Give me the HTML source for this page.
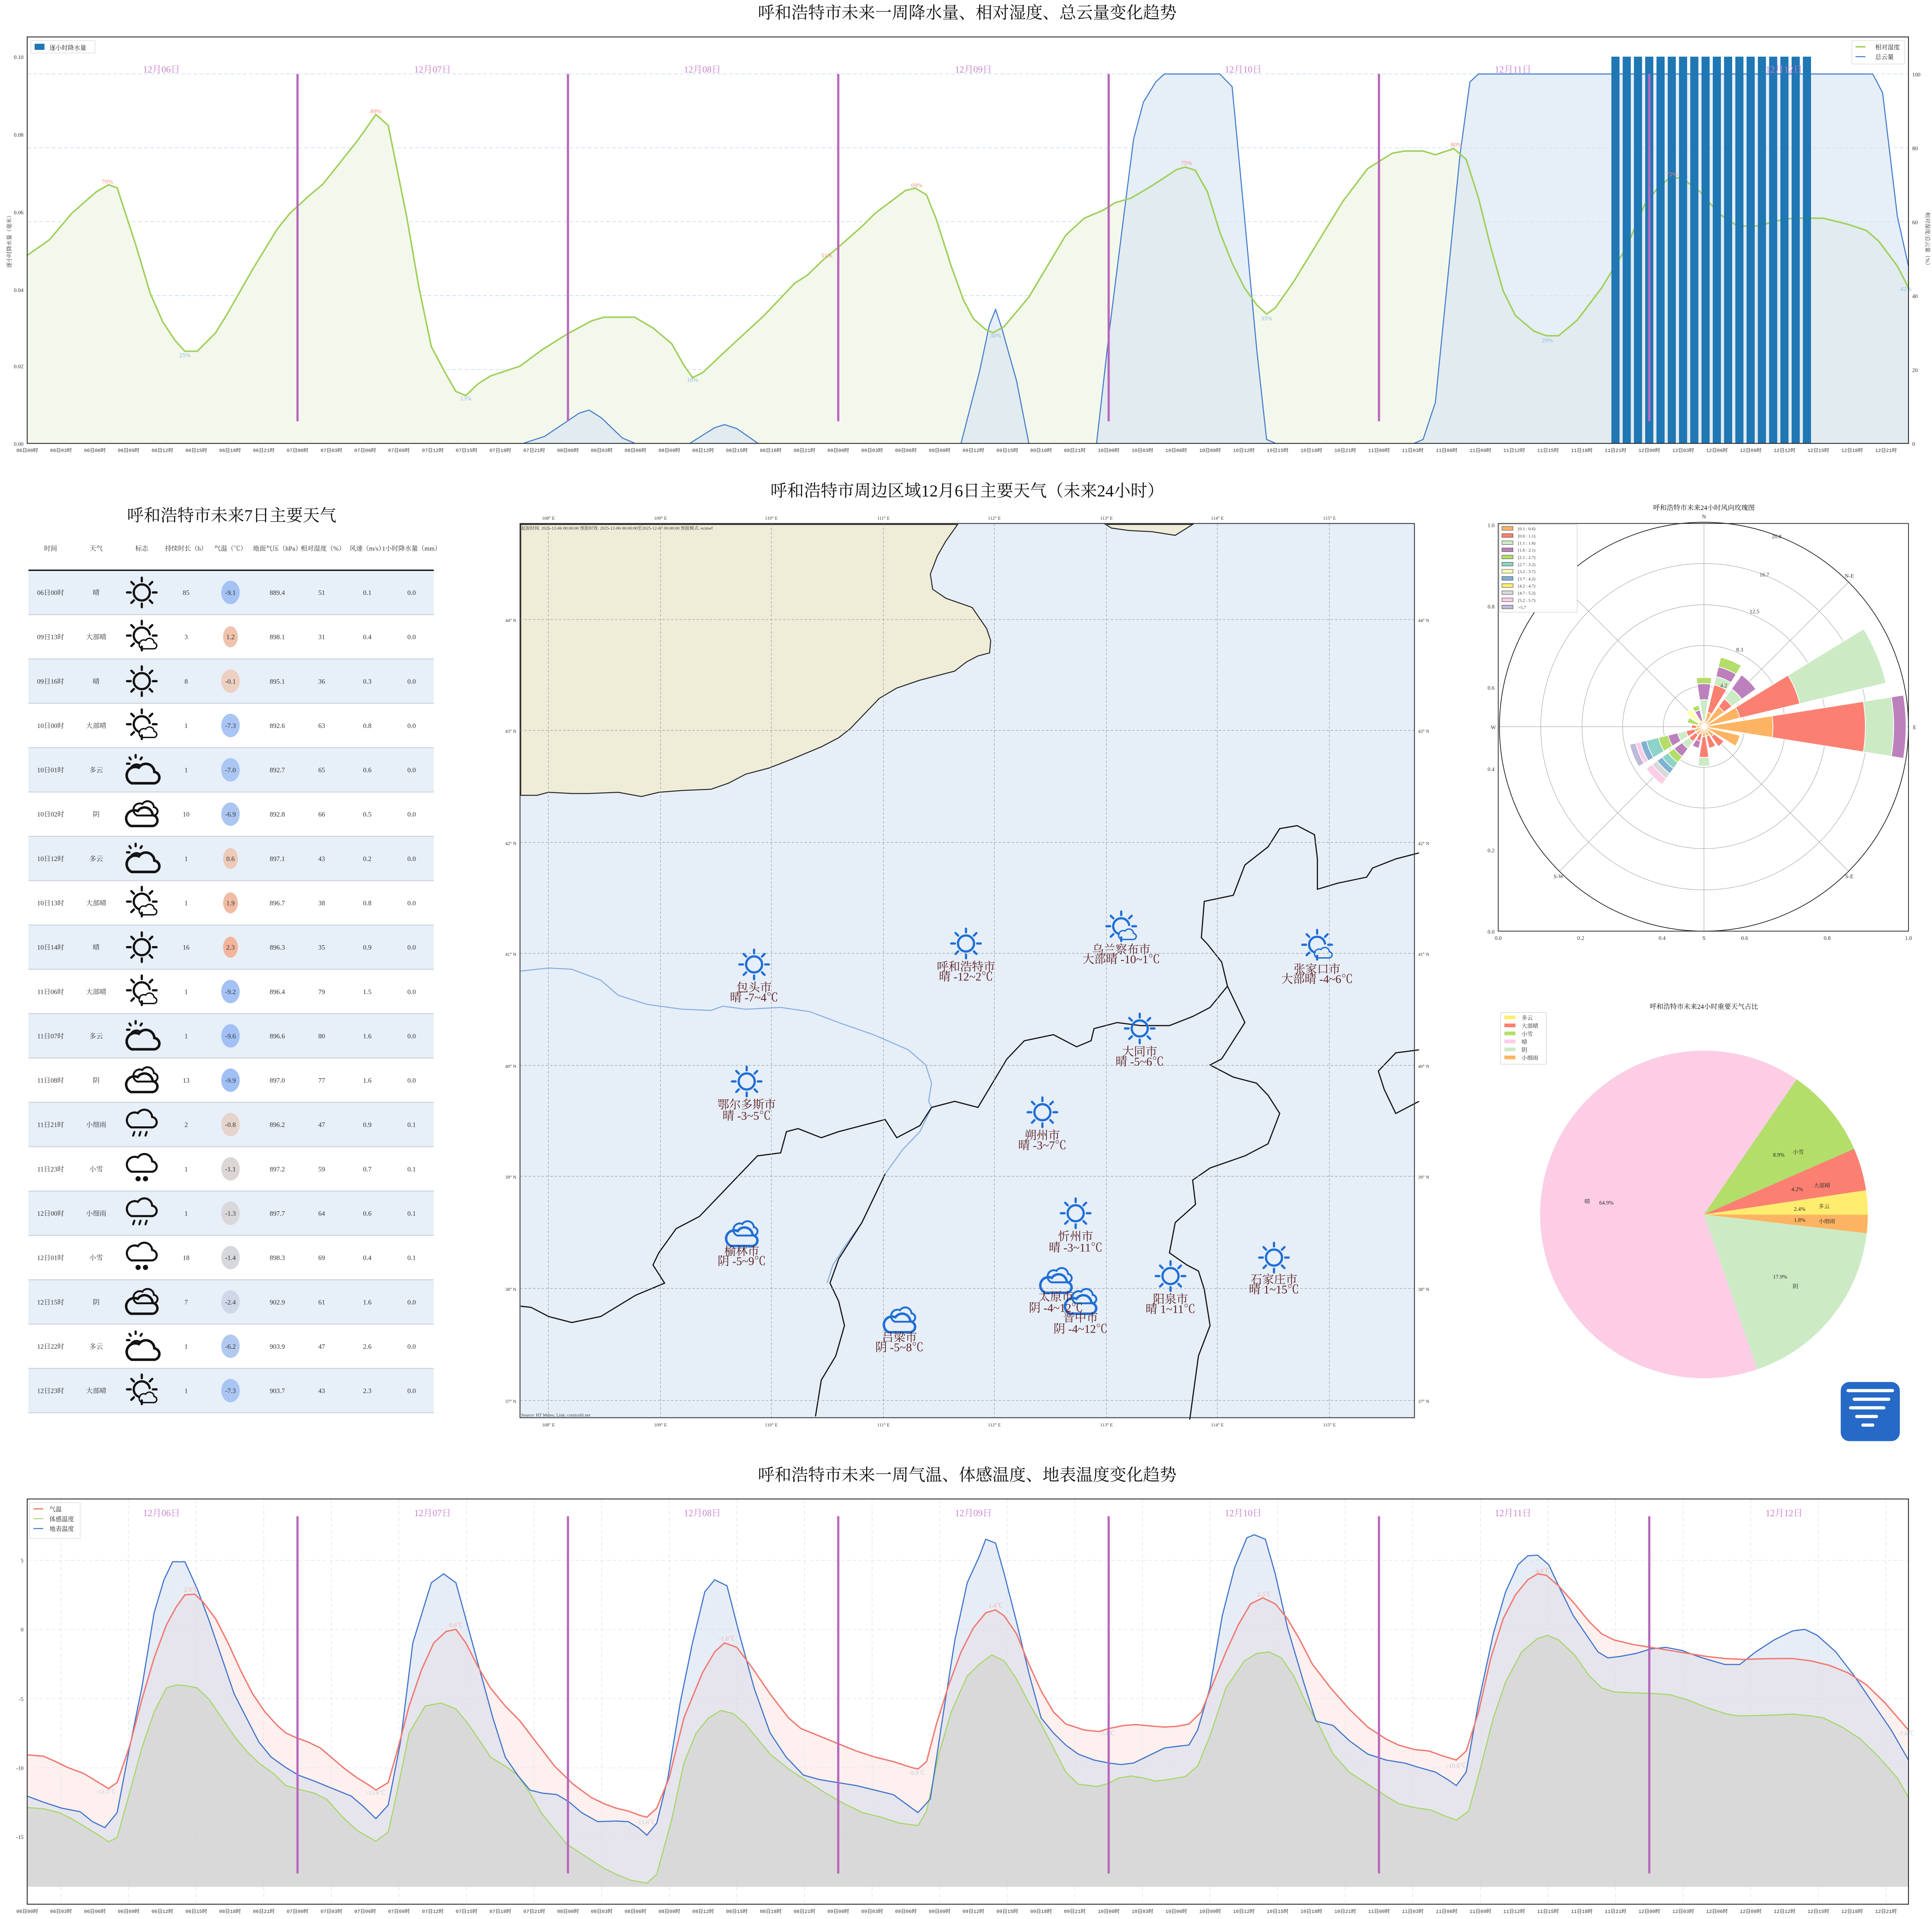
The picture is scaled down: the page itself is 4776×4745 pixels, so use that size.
<!DOCTYPE html>
<html><head><meta charset="utf-8"><style>body{margin:0;background:#fff}svg{display:block}</style></head><body>
<svg id="S" xmlns="http://www.w3.org/2000/svg" width="4776" height="4745" viewBox="0 0 1568 1558" font-family="'Liberation Serif','Noto Serif CJK SC',serif">
<defs>
<g id="sun" fill="none" stroke="currentColor" stroke-width="1.8" stroke-linecap="round"><circle r="6.5"/><path d="M0,-9V-12M6.4,-6.4L8.5,-8.5M9,0H12M6.4,6.4L8.5,8.5M0,9V12M-6.4,6.4L-8.5,8.5M-9,0H-12M-6.4,-6.4L-8.5,-8.5"/></g>
<path id="cl" d="M-8,6 H7 A4,4 0 0 0 8,-2 A6,6 0 0 0 -3,-5 A5,5 0 0 0 -8,6 Z"/>
<g id="sunc" fill="none" stroke="currentColor" stroke-width="1.8" stroke-linecap="round"><path d="M0,-9V-12M6.4,-6.4L8.5,-8.5M9,0H12M0,9V12M-6.4,6.4L-8.5,8.5M-9,0H-12M-6.4,-6.4L-8.5,-8.5"/><path d="M-2,6.2 A6.5,6.5 0 1 1 6.4,-1"/><use href="#cl" transform="translate(5,7) scale(.62)"/></g>
<g id="pc" fill="none" stroke="currentColor" stroke-width="1.8" stroke-linecap="round"><path d="M-5,-13V-11M0,-11L-1,-9.5M-10,-11L-9,-9.5M-12,-6H-10M-1,-4 A5,5 0 0 0 -9,-2"/><use href="#cl" transform="translate(1,3) scale(1.15)"/></g>
<g id="ov" fill="none" stroke="currentColor" stroke-width="1.8"><use href="#cl" transform="translate(3,-4) scale(.85)"/><use href="#cl" transform="translate(0,3) scale(1.1)"/></g>
<g id="rain" fill="none" stroke="currentColor" stroke-width="1.6" stroke-linecap="round"><use href="#cl" transform="translate(0,-3) scale(1.05)"/><path d="M-6,7l-1,3M-1,7l-1,3M4,7l-1,3"/></g>
<g id="snow" stroke="currentColor" stroke-width="1.6"><use href="#cl" fill="none" transform="translate(0,-3) scale(1.05)"/><circle cx="-3" cy="9" r="1.3" fill="currentColor"/><circle cx="3" cy="9" r="1.3" fill="currentColor"/></g>
<g id="xt" font-size="4" fill="#333" text-anchor="middle" font-family="'Liberation Mono','Noto Sans CJK SC',monospace">
<text x="22" y="0">06日00时</text><text x="49.4" y="0">06日03时</text><text x="76.9" y="0">06日06时</text><text x="104.3" y="0">06日09时</text><text x="131.7" y="0">06日12时</text><text x="159.2" y="0">06日15时</text><text x="186.6" y="0">06日18时</text><text x="214" y="0">06日21时</text>
<text x="241.4" y="0">07日00时</text><text x="268.9" y="0">07日03时</text><text x="296.3" y="0">07日06时</text><text x="323.7" y="0">07日09时</text><text x="351.2" y="0">07日12时</text><text x="378.6" y="0">07日15时</text><text x="406" y="0">07日18时</text><text x="433.5" y="0">07日21时</text>
<text x="460.9" y="0">08日00时</text><text x="488.3" y="0">08日03时</text><text x="515.7" y="0">08日06时</text><text x="543.2" y="0">08日09时</text><text x="570.6" y="0">08日12时</text><text x="598" y="0">08日15时</text><text x="625.5" y="0">08日18时</text><text x="652.9" y="0">08日21时</text>
<text x="680.3" y="0">09日00时</text><text x="707.8" y="0">09日03时</text><text x="735.2" y="0">09日06时</text><text x="762.6" y="0">09日09时</text><text x="790" y="0">09日12时</text><text x="817.5" y="0">09日15时</text><text x="844.9" y="0">09日18时</text><text x="872.3" y="0">09日21时</text>
<text x="899.8" y="0">10日00时</text><text x="927.2" y="0">10日03时</text><text x="954.6" y="0">10日06时</text><text x="982.1" y="0">10日09时</text><text x="1009.5" y="0">10日12时</text><text x="1036.9" y="0">10日15时</text><text x="1064.3" y="0">10日18时</text><text x="1091.8" y="0">10日21时</text>
<text x="1119.2" y="0">11日00时</text><text x="1146.6" y="0">11日03时</text><text x="1174.1" y="0">11日06时</text><text x="1201.5" y="0">11日09时</text><text x="1228.9" y="0">11日12时</text><text x="1256.4" y="0">11日15时</text><text x="1283.8" y="0">11日18时</text><text x="1311.2" y="0">11日21时</text>
<text x="1338.6" y="0">12日00时</text><text x="1366.1" y="0">12日03时</text><text x="1393.5" y="0">12日06时</text><text x="1420.9" y="0">12日09时</text><text x="1448.4" y="0">12日12时</text><text x="1475.8" y="0">12日15时</text><text x="1503.2" y="0">12日18时</text><text x="1530.7" y="0">12日21时</text>
</g>
<g id="vl" stroke="#b868bc" stroke-width="1.8"><path d="M241.4,0v1M460.9,0v1M680.3,0v1M899.8,0v1M1119.2,0v1M1338.6,0v1"/></g>
</defs>

<!-- ===== TOP CHART ===== -->
<text x="785" y="15" font-size="13.6" text-anchor="middle" fill="#111">呼和浩特市未来一周降水量、相对湿度、总云量变化趋势</text>
<g stroke="#c4d8ee" stroke-width="0.5" stroke-dasharray="3,2"><path d="M22,60H1549M22,120H1549M22,180H1549M22,240H1549M22,300H1549"/></g>
<g transform="matrix(1,0,0,0.25126,0,0)">
<path fill="#f4f8ec" d="M22,825 L40,775 L58,690 L78,620 L88,597 L95,607 L110,790 L122,950 L132,1040 L142,1100 L150,1135 L160,1135 L175,1075 L185,1010 L205,870 L225,740 L235,690 L250,635 L262,595 L275,530 L290,455 L305,370 L315,405 L330,700 L340,930 L350,1120 L362,1210 L370,1265 L378,1278 L388,1240 L398,1215 L422,1183 L440,1130 L460,1080 L480,1037 L490,1025 L515,1025 L530,1060 L545,1110 L555,1180 L562,1220 L570,1205 L590,1130 L620,1020 L645,915 L655,890 L668,840 L680,800 L700,730 L710,690 L735,615 L743,608 L752,630 L760,710 L772,860 L782,970 L790,1030 L800,1065 L806,1075 L815,1055 L835,960 L850,860 L865,760 L880,705 L895,680 L905,655 L918,640 L935,600 L955,548 L962,540 L970,550 L980,620 L990,750 L1000,850 L1010,930 L1020,985 L1028,1015 L1035,995 L1050,910 L1070,780 L1090,650 L1110,545 L1130,495 L1140,488 L1155,488 L1165,500 L1180,480 L1190,515 L1200,640 L1210,800 L1220,940 L1230,1020 L1245,1070 L1255,1085 L1265,1085 L1280,1035 L1300,930 L1320,800 L1335,660 L1345,610 L1355,575 L1365,575 L1380,620 L1395,690 L1410,730 L1428,730 L1440,715 L1455,705 L1480,705 L1500,725 L1515,745 L1525,780 L1540,860 L1549,930 L1549,1432 L22,1432Z"/>
<path fill="#d6e3f4" fill-opacity="0.6" d="M22,1432 L425,1432 L442,1410 L470,1335 L478,1325 L488,1350 L505,1415 L515,1432 L560,1432 L580,1382 L588,1372 L598,1385 L615,1432 L780,1432 L795,1200 L803,1050 L808,1000 L813,1060 L825,1230 L835,1432 L890,1432 L900,1080 L912,700 L920,450 L928,330 L938,265 L945,239 L990,239 L1000,280 L1010,700 L1020,1130 L1028,1420 L1035,1432 L1148,1432 L1155,1420 L1165,1300 L1175,900 L1185,500 L1193,265 L1200,239 L1520,239 L1528,300 L1540,700 L1549,860 L1549,1432Z"/>
<path fill="none" stroke="#3f7ccc" stroke-width="2.6" vector-effect="non-scaling-stroke" d="M425,1432 L442,1410 L470,1335 L478,1325 L488,1350 L505,1415 L515,1432 M560,1432 L580,1382 L588,1372 L598,1385 L615,1432 M780,1432 L795,1200 L803,1050 L808,1000 L813,1060 L825,1230 L835,1432 M890,1432 L900,1080 L912,700 L920,450 L928,330 L938,265 L945,239 L990,239 L1000,280 L1010,700 L1020,1130 L1028,1420 L1035,1432 M1148,1432 L1155,1420 L1165,1300 L1175,900 L1185,500 L1193,265 L1200,239 L1520,239 L1528,300 L1540,700 L1549,860"/>
<path fill="none" stroke="#9fd05a" stroke-width="3.8" vector-effect="non-scaling-stroke" d="M22,825 L40,775 L58,690 L78,620 L88,597 L95,607 L110,790 L122,950 L132,1040 L142,1100 L150,1135 L160,1135 L175,1075 L185,1010 L205,870 L225,740 L235,690 L250,635 L262,595 L275,530 L290,455 L305,370 L315,405 L330,700 L340,930 L350,1120 L362,1210 L370,1265 L378,1278 L388,1240 L398,1215 L422,1183 L440,1130 L460,1080 L480,1037 L490,1025 L515,1025 L530,1060 L545,1110 L555,1180 L562,1220 L570,1205 L590,1130 L620,1020 L645,915 L655,890 L668,840 L680,800 L700,730 L710,690 L735,615 L743,608 L752,630 L760,710 L772,860 L782,970 L790,1030 L800,1065 L806,1075 L815,1055 L835,960 L850,860 L865,760 L880,705 L895,680 L905,655 L918,640 L935,600 L955,548 L962,540 L970,550 L980,620 L990,750 L1000,850 L1010,930 L1020,985 L1028,1015 L1035,995 L1050,910 L1070,780 L1090,650 L1110,545 L1130,495 L1140,488 L1155,488 L1165,500 L1180,480 L1190,515 L1200,640 L1210,800 L1220,940 L1230,1020 L1245,1070 L1255,1085 L1265,1085 L1280,1035 L1300,930 L1320,800 L1335,660 L1345,610 L1355,575 L1365,575 L1380,620 L1395,690 L1410,730 L1428,730 L1440,715 L1455,705 L1480,705 L1500,725 L1515,745 L1525,780 L1540,860 L1549,930"/>
</g>
<g id="bars"></g>
<use href="#vl" transform="translate(0,60) scale(1,282)"/>
<g font-size="7.5" fill="#c97fcb" text-anchor="middle"><text x="131" y="59">12月06日</text><text x="351" y="59">12月07日</text><text x="570" y="59">12月08日</text><text x="790" y="59">12月09日</text><text x="1009" y="59">12月10日</text><text x="1228" y="59">12月11日</text><text x="1448" y="59">12月12日</text></g>
<g font-size="5" text-anchor="middle"><g fill="#f08a80"><text x="87" y="149">70%</text><text x="305" y="92">89%</text><text x="744" y="152">69%</text><text x="963" y="134">75%</text><text x="1182" y="119">80%</text><text x="1357" y="143">72%</text><text x="671" y="209">51%</text></g>
<g fill="#8ab8d8"><text x="150" y="290">25%</text><text x="378" y="325">13%</text><text x="562" y="310">18%</text><text x="808" y="274">30%</text><text x="1028" y="260">35%</text><text x="1256" y="278">29%</text><text x="1547" y="236">42%</text></g></g>
<rect x="22" y="30" width="1527" height="330" fill="none" stroke="#222" stroke-width="0.7"/>
<g font-size="4.5" fill="#333" text-anchor="end"><text x="19" y="362">0.00</text><text x="19" y="299">0.02</text><text x="19" y="237">0.04</text><text x="19" y="174">0.06</text><text x="19" y="111">0.08</text><text x="19" y="48">0.10</text></g>
<g font-size="4.5" fill="#333"><text x="1552" y="362">0</text><text x="1552" y="302">20</text><text x="1552" y="242">40</text><text x="1552" y="182">60</text><text x="1552" y="122">80</text><text x="1552" y="62">100</text></g>
<text transform="translate(9,195) rotate(-90)" font-size="4.5" text-anchor="middle" fill="#333">逐小时降水量（毫米）</text>
<text transform="translate(1563,195) rotate(90)" font-size="4.5" text-anchor="middle" fill="#333">相对湿度/总云量（%）</text>
<g><rect x="25" y="33" width="52" height="10" fill="#fff" stroke="#ddd" stroke-width="0.5"/><rect x="28" y="35.5" width="8" height="5" fill="#1f77b4"/><text x="40" y="40.5" font-size="5" fill="#222">逐小时降水量</text></g>
<g><rect x="1503" y="33" width="43" height="19" fill="#fff" stroke="#ddd" stroke-width="0.5"/><path d="M1506,38h8" stroke="#9fd05a" stroke-width="1.2"/><path d="M1506,46h8" stroke="#3f7ccc" stroke-width="0.8"/><text x="1522" y="40" font-size="5" fill="#222">相对湿度</text><text x="1522" y="48" font-size="5" fill="#222">总云量</text></g>
<use href="#xt" transform="translate(0,367)"/>

<!-- ===== TABLE ===== -->
<text x="188" y="423" font-size="13.6" text-anchor="middle" fill="#111">呼和浩特市未来7日主要天气</text>
<g font-size="5.3" fill="#333" text-anchor="middle"><text x="41" y="447">时间</text><text x="78" y="447">天气</text><text x="115" y="447">标志</text><text x="151" y="447">持续时长（h）</text><text x="187" y="447">气温（℃）</text><text x="225" y="447">地面气压（hPa）</text><text x="262" y="447">相对湿度（%）</text><text x="298" y="447">风速（m/s）</text><text x="334" y="447">1小时降水量（mm）</text></g>
<g fill="#e7eff9"><rect x="23" y="463" width="329" height="36"/><rect x="23" y="535" width="329" height="36"/><rect x="23" y="607" width="329" height="36"/><rect x="23" y="679" width="329" height="36"/><rect x="23" y="751" width="329" height="36"/><rect x="23" y="823" width="329" height="36"/><rect x="23" y="895" width="329" height="36"/><rect x="23" y="967" width="329" height="36"/><rect x="23" y="1039" width="329" height="36"/><rect x="23" y="1111" width="329" height="36"/></g>
<g stroke="#cfd3d8" stroke-width="0.8"><path d="M23,499H352M23,535H352M23,571H352M23,607H352M23,643H352M23,679H352M23,715H352M23,751H352M23,787H352M23,823H352M23,859H352M23,895H352M23,931H352M23,967H352M23,1003H352M23,1039H352M23,1075H352M23,1111H352M23,1147H352"/></g>
<path d="M23,463H352" stroke="#111" stroke-width="1.1"/>
<g>
<ellipse cx="187" cy="481" rx="7.5" ry="9.5" fill="#a4c2f4"/><ellipse cx="187" cy="517" rx="6" ry="8.5" fill="#efc3ac"/><ellipse cx="187" cy="553" rx="7.5" ry="9.5" fill="#ecd0c2"/><ellipse cx="187" cy="589" rx="7.5" ry="9.5" fill="#a9c5f3"/><ellipse cx="187" cy="625" rx="7.5" ry="9.5" fill="#aac6f2"/><ellipse cx="187" cy="661" rx="7.5" ry="9.5" fill="#abc6f1"/><ellipse cx="187" cy="697" rx="6" ry="8.5" fill="#edcab9"/><ellipse cx="187" cy="733" rx="6" ry="8.5" fill="#f0bca4"/><ellipse cx="187" cy="769" rx="6" ry="8.5" fill="#f2b49b"/><ellipse cx="187" cy="805" rx="7.5" ry="9.5" fill="#a4c2f4"/><ellipse cx="187" cy="841" rx="7.5" ry="9.5" fill="#a2c0f5"/><ellipse cx="187" cy="877" rx="7.5" ry="9.5" fill="#a0bff5"/><ellipse cx="187" cy="913" rx="7.5" ry="9.5" fill="#e6d4cc"/><ellipse cx="187" cy="949" rx="7.5" ry="9.5" fill="#dcd6d5"/><ellipse cx="187" cy="985" rx="7.5" ry="9.5" fill="#d9d7da"/><ellipse cx="187" cy="1021" rx="7.5" ry="9.5" fill="#d6d8dd"/><ellipse cx="187" cy="1057" rx="7.5" ry="9.5" fill="#cfd8e8"/><ellipse cx="187" cy="1093" rx="7.5" ry="9.5" fill="#b2c9ef"/><ellipse cx="187" cy="1129" rx="7.5" ry="9.5" fill="#a9c5f3"/>
</g>
<g color="#111">
<use href="#sun" transform="translate(115,481)"/><use href="#sunc" transform="translate(115,516)"/><use href="#sun" transform="translate(115,553)"/><use href="#sunc" transform="translate(115,588)"/><use href="#pc" transform="translate(115,626)"/><use href="#ov" transform="translate(115,661)"/><use href="#pc" transform="translate(115,698)"/><use href="#sunc" transform="translate(115,732)"/><use href="#sun" transform="translate(115,769)"/><use href="#sunc" transform="translate(115,804)"/><use href="#pc" transform="translate(115,842)"/><use href="#ov" transform="translate(115,877)"/><use href="#rain" transform="translate(115,912)"/><use href="#snow" transform="translate(115,948)"/><use href="#rain" transform="translate(115,984)"/><use href="#snow" transform="translate(115,1020)"/><use href="#ov" transform="translate(115,1057)"/><use href="#pc" transform="translate(115,1094)"/><use href="#sunc" transform="translate(115,1128)"/>
</g>
<g font-size="5.5" fill="#333" text-anchor="middle">
<text y="483"><tspan x="41">06日00时</tspan><tspan x="78">晴</tspan><tspan x="151">85</tspan><tspan x="187">-9.1</tspan><tspan x="225">889.4</tspan><tspan x="261">51</tspan><tspan x="298">0.1</tspan><tspan x="334">0.0</tspan></text>
<text y="519"><tspan x="41">09日13时</tspan><tspan x="78">大部晴</tspan><tspan x="151">3</tspan><tspan x="187">1.2</tspan><tspan x="225">898.1</tspan><tspan x="261">31</tspan><tspan x="298">0.4</tspan><tspan x="334">0.0</tspan></text>
<text y="555"><tspan x="41">09日16时</tspan><tspan x="78">晴</tspan><tspan x="151">8</tspan><tspan x="187">-0.1</tspan><tspan x="225">895.1</tspan><tspan x="261">36</tspan><tspan x="298">0.3</tspan><tspan x="334">0.0</tspan></text>
<text y="591"><tspan x="41">10日00时</tspan><tspan x="78">大部晴</tspan><tspan x="151">1</tspan><tspan x="187">-7.3</tspan><tspan x="225">892.6</tspan><tspan x="261">63</tspan><tspan x="298">0.8</tspan><tspan x="334">0.0</tspan></text>
<text y="627"><tspan x="41">10日01时</tspan><tspan x="78">多云</tspan><tspan x="151">1</tspan><tspan x="187">-7.0</tspan><tspan x="225">892.7</tspan><tspan x="261">65</tspan><tspan x="298">0.6</tspan><tspan x="334">0.0</tspan></text>
<text y="663"><tspan x="41">10日02时</tspan><tspan x="78">阴</tspan><tspan x="151">10</tspan><tspan x="187">-6.9</tspan><tspan x="225">892.8</tspan><tspan x="261">66</tspan><tspan x="298">0.5</tspan><tspan x="334">0.0</tspan></text>
<text y="699"><tspan x="41">10日12时</tspan><tspan x="78">多云</tspan><tspan x="151">1</tspan><tspan x="187">0.6</tspan><tspan x="225">897.1</tspan><tspan x="261">43</tspan><tspan x="298">0.2</tspan><tspan x="334">0.0</tspan></text>
<text y="735"><tspan x="41">10日13时</tspan><tspan x="78">大部晴</tspan><tspan x="151">1</tspan><tspan x="187">1.9</tspan><tspan x="225">896.7</tspan><tspan x="261">38</tspan><tspan x="298">0.8</tspan><tspan x="334">0.0</tspan></text>
<text y="771"><tspan x="41">10日14时</tspan><tspan x="78">晴</tspan><tspan x="151">16</tspan><tspan x="187">2.3</tspan><tspan x="225">896.3</tspan><tspan x="261">35</tspan><tspan x="298">0.9</tspan><tspan x="334">0.0</tspan></text>
<text y="807"><tspan x="41">11日06时</tspan><tspan x="78">大部晴</tspan><tspan x="151">1</tspan><tspan x="187">-9.2</tspan><tspan x="225">896.4</tspan><tspan x="261">79</tspan><tspan x="298">1.5</tspan><tspan x="334">0.0</tspan></text>
<text y="843"><tspan x="41">11日07时</tspan><tspan x="78">多云</tspan><tspan x="151">1</tspan><tspan x="187">-9.6</tspan><tspan x="225">896.6</tspan><tspan x="261">80</tspan><tspan x="298">1.6</tspan><tspan x="334">0.0</tspan></text>
<text y="879"><tspan x="41">11日08时</tspan><tspan x="78">阴</tspan><tspan x="151">13</tspan><tspan x="187">-9.9</tspan><tspan x="225">897.0</tspan><tspan x="261">77</tspan><tspan x="298">1.6</tspan><tspan x="334">0.0</tspan></text>
<text y="915"><tspan x="41">11日21时</tspan><tspan x="78">小细雨</tspan><tspan x="151">2</tspan><tspan x="187">-0.8</tspan><tspan x="225">896.2</tspan><tspan x="261">47</tspan><tspan x="298">0.9</tspan><tspan x="334">0.1</tspan></text>
<text y="951"><tspan x="41">11日23时</tspan><tspan x="78">小雪</tspan><tspan x="151">1</tspan><tspan x="187">-1.1</tspan><tspan x="225">897.2</tspan><tspan x="261">59</tspan><tspan x="298">0.7</tspan><tspan x="334">0.1</tspan></text>
<text y="987"><tspan x="41">12日00时</tspan><tspan x="78">小细雨</tspan><tspan x="151">1</tspan><tspan x="187">-1.3</tspan><tspan x="225">897.7</tspan><tspan x="261">64</tspan><tspan x="298">0.6</tspan><tspan x="334">0.1</tspan></text>
<text y="1023"><tspan x="41">12日01时</tspan><tspan x="78">小雪</tspan><tspan x="151">18</tspan><tspan x="187">-1.4</tspan><tspan x="225">898.3</tspan><tspan x="261">69</tspan><tspan x="298">0.4</tspan><tspan x="334">0.1</tspan></text>
<text y="1059"><tspan x="41">12日15时</tspan><tspan x="78">阴</tspan><tspan x="151">7</tspan><tspan x="187">-2.4</tspan><tspan x="225">902.9</tspan><tspan x="261">61</tspan><tspan x="298">1.6</tspan><tspan x="334">0.0</tspan></text>
<text y="1095"><tspan x="41">12日22时</tspan><tspan x="78">多云</tspan><tspan x="151">1</tspan><tspan x="187">-6.2</tspan><tspan x="225">903.9</tspan><tspan x="261">47</tspan><tspan x="298">2.6</tspan><tspan x="334">0.0</tspan></text>
<text y="1131"><tspan x="41">12日23时</tspan><tspan x="78">大部晴</tspan><tspan x="151">1</tspan><tspan x="187">-7.3</tspan><tspan x="225">903.7</tspan><tspan x="261">43</tspan><tspan x="298">2.3</tspan><tspan x="334">0.0</tspan></text>
</g>

<!-- ===== MAP ===== -->
<text x="785" y="403" font-size="13.6" text-anchor="middle" fill="#111">呼和浩特市周边区域12月6日主要天气（未来24小时）</text>
<rect x="422" y="425" width="726" height="726" fill="#e6eef8"/>
<g transform="matrix(0.471,0,0,0.492,416.9,387.4)">
<path fill="#efedd8" stroke="#222" stroke-width="2.4" vector-effect="non-scaling-stroke" d="M12,78 L765,78 L745,105 L730,130 L718,160 L722,185 L745,200 L790,215 L815,250 L822,270 L820,290 L800,295 L780,305 L760,320 L740,325 L700,335 L660,348 L630,365 L600,395 L580,415 L560,430 L530,445 L480,465 L440,480 L400,490 L370,505 L340,515 L290,517 L250,520 L220,527 L180,520 L130,522 L100,522 L60,520 L40,525 L12,525Z"/>
<path fill="#efedd8" stroke="#222" stroke-width="2.4" vector-effect="non-scaling-stroke" d="M1020,78 L1170,78 L1140,96 L1100,90 L1060,88 L1030,84Z"/>
<path fill="none" stroke="#86aee0" stroke-width="2.6" vector-effect="non-scaling-stroke" d="M12,815 L60,810 L100,812 L150,830 L180,855 L230,870 L290,878 L340,880 L360,873 L400,878 L460,875 L510,882 L560,900 L620,920 L680,945 L710,970 L720,1000 L715,1030 L720,1040 L700,1080 L670,1110 L640,1150 L620,1190 L600,1230 L570,1270 L550,1300 L540,1330"/>
<path fill="none" stroke="#111" stroke-width="2.8" vector-effect="non-scaling-stroke" d="M720,1040 L760,1030 L800,1040 L825,1000 L850,960 L880,930 L930,920 L970,940 L995,930 L1000,910 L1040,900 L1080,905 L1130,905 L1170,890 L1200,875 L1230,840 L1220,800 L1195,770 L1185,760 L1190,700 L1240,690 L1260,640 L1300,610 L1320,580 L1350,575 L1380,590 L1385,630 L1385,680 L1420,670 L1470,660 L1480,645 L1520,630 L1560,620 M1230,840 L1250,880 L1260,900 L1220,960 L1200,970 L1240,990 L1280,1000 L1300,1020 L1320,1050 L1300,1100 L1260,1120 L1200,1140 L1170,1160 L1175,1200 L1140,1230 L1130,1280 L1160,1300 L1180,1310 L1190,1340 L1200,1400 L1180,1450 L1170,1520 L1165,1555 M720,1040 L700,1070 L660,1090 L640,1060 L600,1070 L560,1080 L530,1090 L490,1075 L470,1080 L460,1115 L420,1120 L400,1140 L380,1160 L350,1190 L320,1220 L280,1240 L250,1280 L240,1300 L260,1330 L210,1350 L150,1385 L100,1395 L60,1385 L30,1370 L12,1368 M640,1150 L620,1190 L600,1230 L560,1290 L545,1330 L560,1360 L570,1400 L555,1450 L530,1490 L520,1550 M1560,945 L1520,950 L1490,980 L1500,1010 L1520,1050 L1560,1030"/>
</g>
<g stroke="#999" stroke-width="0.4" stroke-dasharray="2,1.5" fill="none"><path d="M445,425V1151M536,425V1151M626,425V1151M717,425V1151M807,425V1151M898,425V1151M988,425V1151M1079,425V1151M422,503H1148M422,593H1148M422,684H1148M422,774H1148M422,865H1148M422,955H1148M422,1046H1148M422,1137H1148"/></g>
<rect x="422" y="425" width="726" height="726" fill="none" stroke="#333" stroke-width="0.7"/>
<g font-size="3.8" fill="#333" text-anchor="middle"><text y="422"><tspan x="445">108° E</tspan><tspan x="536">109° E</tspan><tspan x="626">110° E</tspan><tspan x="717">111° E</tspan><tspan x="807">112° E</tspan><tspan x="898">113° E</tspan><tspan x="988">114° E</tspan><tspan x="1079">115° E</tspan></text><text y="1158"><tspan x="445">108° E</tspan><tspan x="536">109° E</tspan><tspan x="626">110° E</tspan><tspan x="717">111° E</tspan><tspan x="807">112° E</tspan><tspan x="898">113° E</tspan><tspan x="988">114° E</tspan><tspan x="1079">115° E</tspan></text></g>
<g font-size="3.8" fill="#333"><text x="410" y="505">44° N</text><text x="410" y="595">43° N</text><text x="410" y="686">42° N</text><text x="410" y="776">41° N</text><text x="410" y="867">40° N</text><text x="410" y="957">39° N</text><text x="410" y="1048">38° N</text><text x="410" y="1139">37° N</text><text x="1151" y="505">44° N</text><text x="1151" y="595">43° N</text><text x="1151" y="686">42° N</text><text x="1151" y="776">41° N</text><text x="1151" y="867">40° N</text><text x="1151" y="957">39° N</text><text x="1151" y="1048">38° N</text><text x="1151" y="1139">37° N</text></g>
<text x="423" y="430" font-size="3.6" fill="#333">起报时间: 2025-12-06 00:00:00 预报时效: 2025-12-06 00:00:00至2025-12-07 00:00:00 预报模式: ecmwf</text>
<text x="423" y="1150" font-size="3.6" fill="#333">Source: HT Meteo, Link: cornicelli.net</text>
<g color="#1f6fd6">
<use href="#sun" transform="translate(612,783)"/><use href="#sun" transform="translate(784,766)"/><use href="#sunc" transform="translate(910,752)"/><use href="#sunc" transform="translate(1069,767)"/><use href="#sun" transform="translate(925,835)"/><use href="#sun" transform="translate(606,878)"/><use href="#sun" transform="translate(846,903)"/><use href="#sun" transform="translate(873,985)"/><use href="#ov" transform="translate(602,1002)"/><use href="#sun" transform="translate(1034,1021)"/><use href="#sun" transform="translate(950,1036)"/><use href="#ov" transform="translate(857,1040)"/><use href="#ov" transform="translate(877,1057)"/><use href="#ov" transform="translate(730,1072)"/>
</g>
<g font-size="9.5" fill="#5a1e1e" text-anchor="middle">
<text x="612" y="805">包头市</text><text x="612" y="813">晴 -7~4℃</text>
<text x="784" y="788">呼和浩特市</text><text x="784" y="796">晴 -12~2℃</text>
<text x="910" y="774">乌兰察布市</text><text x="910" y="782">大部晴 -10~1℃</text>
<text x="1069" y="790">张家口市</text><text x="1069" y="798">大部晴 -4~6℃</text>
<text x="925" y="857">大同市</text><text x="925" y="865">晴 -5~6℃</text>
<text x="606" y="900">鄂尔多斯市</text><text x="606" y="909">晴 -3~5℃</text>
<text x="846" y="925">朔州市</text><text x="846" y="933">晴 -3~7℃</text>
<text x="873" y="1007">忻州市</text><text x="873" y="1016">晴 -3~11℃</text>
<text x="602" y="1019">榆林市</text><text x="602" y="1027">阴 -5~9℃</text>
<text x="1034" y="1042">石家庄市</text><text x="1034" y="1050">晴 1~15℃</text>
<text x="950" y="1058">阳泉市</text><text x="950" y="1066">晴 1~11℃</text>
<text x="857" y="1056">太原市</text><text x="857" y="1065">阴 -4~12℃</text>
<text x="877" y="1073">晋中市</text><text x="877" y="1082">阴 -4~12℃</text>
<text x="730" y="1089">吕梁市</text><text x="730" y="1097">阴 -5~8℃</text>
</g>

<!-- ===== WIND ROSE ===== -->
<text x="1383" y="414" font-size="5.5" text-anchor="middle" fill="#111">呼和浩特市未来24小时风向玫瑰图</text>
<rect x="1216" y="425" width="333" height="331" fill="#fff" stroke="#222" stroke-width="0.6"/>
<g fill="none" stroke="#aaa" stroke-width="0.4"><circle cx="1383" cy="590" r="33"/><circle cx="1383" cy="590" r="66"/><circle cx="1383" cy="590" r="99"/><circle cx="1383" cy="590" r="132.5"/><path d="M1383,424V756M1217,590H1549M1265.6,472.6L1500.4,707.4M1500.4,472.6L1265.6,707.4"/></g>
<circle cx="1383" cy="590" r="166" fill="none" stroke="#222" stroke-width="0.6"/>
<g id="rose"></g>
<g font-size="4.5" fill="#333" text-anchor="middle"><text x="1383" y="421">N</text><text x="1554" y="592">E</text><text x="1383" y="763">S</text><text x="1212" y="592">W</text><text x="1501" y="469">N-E</text><text x="1265" y="469">N-W</text><text x="1501" y="713">S-E</text><text x="1265" y="713">S-W</text>
<text x="1399" y="558">4.2</text><text x="1412" y="529">8.3</text><text x="1424" y="498">12.5</text><text x="1432" y="468">16.7</text><text x="1442" y="437">20.8</text></g>
<g font-size="4.5" fill="#333" text-anchor="end"><text x="1213" y="758">0.0</text><text x="1213" y="692">0.2</text><text x="1213" y="626">0.4</text><text x="1213" y="560">0.6</text><text x="1213" y="494">0.8</text><text x="1213" y="428">1.0</text></g>
<g font-size="4.5" fill="#333" text-anchor="middle"><text y="763"><tspan x="1216">0.0</tspan><tspan x="1283">0.2</tspan><tspan x="1349">0.4</tspan><tspan x="1416">0.6</tspan><tspan x="1483">0.8</tspan><tspan x="1549">1.0</tspan></text></g>
<g font-size="3.6" fill="#333">
<rect x="1217" y="426" width="63" height="71" fill="#fff" stroke="#ccc" stroke-width="0.4"/>
<rect x="1219" y="427.5" width="9" height="3" fill="#fdb462" stroke="#333" stroke-width="0.3"/><text x="1232" y="430.5">[0.1 : 0.6)</text>
<rect x="1219" y="433.3" width="9" height="3" fill="#fb8072" stroke="#333" stroke-width="0.3"/><text x="1232" y="436.3">[0.6 : 1.1)</text>
<rect x="1219" y="439.1" width="9" height="3" fill="#ccebc5" stroke="#333" stroke-width="0.3"/><text x="1232" y="442.1">[1.1 : 1.6)</text>
<rect x="1219" y="444.9" width="9" height="3" fill="#bc80bd" stroke="#333" stroke-width="0.3"/><text x="1232" y="447.9">[1.6 : 2.1)</text>
<rect x="1219" y="450.7" width="9" height="3" fill="#b3de69" stroke="#333" stroke-width="0.3"/><text x="1232" y="453.7">[2.1 : 2.7)</text>
<rect x="1219" y="456.5" width="9" height="3" fill="#8dd3c7" stroke="#333" stroke-width="0.3"/><text x="1232" y="459.5">[2.7 : 3.2)</text>
<rect x="1219" y="462.3" width="9" height="3" fill="#ffffb3" stroke="#333" stroke-width="0.3"/><text x="1232" y="465.3">[3.2 : 3.7)</text>
<rect x="1219" y="468.1" width="9" height="3" fill="#80b1d3" stroke="#333" stroke-width="0.3"/><text x="1232" y="471.1">[3.7 : 4.2)</text>
<rect x="1219" y="473.9" width="9" height="3" fill="#ffed6f" stroke="#333" stroke-width="0.3"/><text x="1232" y="476.9">[4.2 : 4.7)</text>
<rect x="1219" y="479.7" width="9" height="3" fill="#d9d9d9" stroke="#333" stroke-width="0.3"/><text x="1232" y="482.7">[4.7 : 5.2)</text>
<rect x="1219" y="485.5" width="9" height="3" fill="#fccde5" stroke="#333" stroke-width="0.3"/><text x="1232" y="488.5">[5.2 : 5.7)</text>
<rect x="1219" y="491.3" width="9" height="3" fill="#bebada" stroke="#333" stroke-width="0.3"/><text x="1232" y="494.3">&gt;5.7</text>
</g>

<!-- ===== PIE ===== -->
<text x="1383" y="819" font-size="5.5" text-anchor="middle" fill="#111">呼和浩特市未来24小时重要天气占比</text>
<g id="pie"></g>
<g font-size="4.5" fill="#222">
<rect x="1218" y="822" width="37" height="42" fill="#fff" stroke="#ccc" stroke-width="0.4"/>
<rect x="1221" y="824.5" width="9" height="3" fill="#ffed6f"/><text x="1235" y="828">多云</text>
<rect x="1221" y="831" width="9" height="3" fill="#fb8072"/><text x="1235" y="834.5">大部晴</text>
<rect x="1221" y="837.5" width="9" height="3" fill="#b3de69"/><text x="1235" y="841">小雪</text>
<rect x="1221" y="844" width="9" height="3" fill="#fccde5"/><text x="1235" y="847.5">晴</text>
<rect x="1221" y="850.5" width="9" height="3" fill="#ccebc5"/><text x="1235" y="854">阴</text>
<rect x="1221" y="857" width="9" height="3" fill="#fdb462"/><text x="1235" y="860.5">小细雨</text>
<text x="1286" y="977">晴</text><text x="1298" y="978">64.9%</text>
<text x="1455" y="937">小雪</text><text x="1439" y="939">8.9%</text>
<text x="1472" y="964">大部晴</text><text x="1454" y="967">4.2%</text>
<text x="1476" y="981">多云</text><text x="1456" y="983">2.4%</text>
<text x="1476" y="993">小细雨</text><text x="1456" y="992">1.8%</text>
<text x="1439" y="1038">17.9%</text><text x="1455" y="1046">阴</text>
</g>
<rect x="1494" y="1122" width="48" height="48" rx="7" fill="#2669c6"/>
<g stroke="#fff" stroke-width="2.6" stroke-linecap="round"><path d="M1500,1129H1536M1505,1136H1533M1502,1143H1529M1507,1150H1523M1512,1157H1520"/></g>

<!-- ===== BOTTOM CHART ===== -->
<text x="785" y="1202" font-size="13.6" text-anchor="middle" fill="#111">呼和浩特市未来一周气温、体感温度、地表温度变化趋势</text>
<g stroke="#d4e2f2" stroke-width="0.4" stroke-dasharray="3,2"><path d="M22,1266.8H1549M22,1322.9H1549M22,1379H1549M22,1435.3H1549M22,1491.6H1549M49.4,1217V1546M104.3,1217V1546M159.2,1217V1546M214,1217V1546M268.9,1217V1546M323.7,1217V1546M378.6,1217V1546M433.5,1217V1546M488.3,1217V1546M543.2,1217V1546M598,1217V1546M652.9,1217V1546M707.8,1217V1546M762.6,1217V1546M817.5,1217V1546M872.3,1217V1546M927.2,1217V1546M982.1,1217V1546M1036.9,1217V1546M1091.8,1217V1546M1146.6,1217V1546M1201.5,1217V1546M1256.4,1217V1546M1311.2,1217V1546M1366.1,1217V1546M1420.9,1217V1546M1475.8,1217V1546M1530.7,1217V1546"/></g>
<g transform="matrix(1,0,0,0.2439,0,1175.3)">
<path fill="#fbe2dd" fill-opacity="0.5" d="M22,1023 L35,1027 L45,1045 L55,1065 L68,1085 L78,1110 L88,1135 L95,1115 L105,995 L115,840 L125,700 L135,590 L143,530 L150,490 L158,488 L165,515 L175,570 L185,650 L195,740 L205,820 L215,880 L225,925 L232,950 L240,965 L250,980 L260,1000 L270,1035 L280,1070 L290,1100 L300,1125 L305,1140 L315,1115 L323,1000 L332,860 L342,740 L352,650 L362,612 L370,605 L378,650 L388,730 L398,800 L410,860 L422,910 L435,980 L450,1060 L465,1120 L480,1165 L490,1185 L500,1200 L510,1210 L520,1225 L525,1230 L533,1200 L543,1100 L555,900 L563,820 L570,750 L580,680 L588,650 L598,665 L610,730 L625,820 L640,900 L650,935 L665,960 L680,985 L695,1010 L710,1030 L725,1045 L740,1065 L745,1070 L752,1045 L760,920 L770,790 L780,680 L790,600 L800,550 L808,540 L815,560 L825,620 L835,720 L845,810 L855,880 L865,920 L880,940 L892,945 L900,935 L912,925 L922,922 L935,927 L945,930 L955,928 L965,920 L975,880 L985,780 L995,680 L1005,590 L1015,520 L1025,500 L1035,520 L1045,570 L1055,640 L1065,720 L1080,800 L1095,870 L1110,930 L1125,970 L1135,990 L1148,1005 L1160,1010 L1170,1025 L1182,1040 L1190,1010 L1200,880 L1210,700 L1220,570 L1230,490 L1240,440 L1248,420 L1255,425 L1265,460 L1278,520 L1290,580 L1300,620 L1310,640 L1325,655 L1340,665 L1355,675 L1370,685 L1385,695 L1400,702 L1415,705 L1430,703 L1445,702 L1455,702 L1470,710 L1485,725 L1500,750 L1515,790 L1530,850 L1549,940 L1549,1462 L22,1462Z"/>
<path fill="#c9d6ec" fill-opacity="0.45" d="M22,1160 L35,1180 L50,1200 L65,1212 L75,1245 L85,1265 L95,1215 L105,1000 L115,800 L125,550 L133,440 L140,380 L150,380 L160,470 L170,580 L180,700 L190,820 L200,900 L210,980 L220,1030 L232,1065 L242,1090 L255,1110 L270,1135 L285,1160 L295,1195 L305,1235 L315,1190 L325,980 L335,650 L350,450 L360,420 L370,450 L380,600 L390,750 L400,900 L410,1030 L420,1090 L430,1140 L440,1150 L452,1155 L462,1180 L472,1215 L485,1245 L500,1243 L510,1245 L518,1265 L525,1290 L533,1250 L542,1100 L552,850 L562,650 L572,480 L580,440 L590,460 L600,620 L612,800 L625,950 L638,1030 L652,1090 L665,1105 L680,1115 L695,1125 L710,1140 L725,1155 L735,1185 L745,1215 L755,1170 L765,900 L775,640 L785,450 L795,360 L800,305 L808,318 L815,420 L825,580 L835,750 L845,900 L855,950 L865,990 L875,1020 L888,1040 L900,1050 L910,1055 L920,1050 L930,1030 L945,1000 L958,993 L965,990 L972,940 L982,800 L992,560 L1002,400 L1012,300 L1018,290 L1027,305 L1035,420 L1045,600 L1058,780 L1068,910 L1082,925 L1095,975 L1110,1020 L1125,1040 L1140,1050 L1152,1065 L1165,1080 L1175,1105 L1182,1125 L1190,1080 L1200,850 L1212,620 L1222,480 L1232,390 L1240,360 L1248,358 L1257,390 L1265,460 L1277,560 L1287,620 L1297,680 L1305,700 L1315,695 L1328,685 L1340,670 L1352,665 L1365,675 L1378,695 L1390,710 L1400,722 L1412,722 L1425,680 L1440,640 L1455,610 L1465,605 L1475,625 L1490,680 L1505,760 L1520,850 L1535,940 L1549,1040 L1549,1462 L22,1462Z"/>
<path fill="#d0d0cc" fill-opacity="0.6" d="M22,1198 L35,1202 L48,1215 L58,1235 L70,1265 L80,1290 L88,1312 L95,1298 L105,1150 L115,1000 L125,880 L135,800 L143,790 L150,792 L160,800 L170,840 L180,900 L190,960 L200,1010 L210,1050 L222,1085 L232,1125 L245,1140 L255,1150 L265,1170 L278,1230 L290,1275 L305,1310 L315,1280 L322,1150 L332,950 L345,860 L358,850 L370,870 L380,920 L390,980 L398,1030 L410,1060 L420,1090 L430,1150 L440,1220 L450,1270 L460,1320 L475,1360 L490,1400 L500,1420 L512,1440 L525,1450 L533,1420 L545,1240 L555,1050 L565,950 L575,900 L585,875 L595,885 L605,920 L615,970 L625,1020 L640,1070 L655,1110 L670,1150 L685,1185 L700,1215 L715,1230 L730,1250 L745,1258 L752,1210 L762,1020 L772,880 L785,760 L795,720 L805,690 L815,710 L825,770 L835,850 L845,920 L855,1000 L865,1080 L875,1120 L890,1128 L898,1120 L908,1100 L918,1093 L928,1100 L938,1110 L948,1105 L962,1095 L972,1060 L982,960 L995,800 L1010,710 L1020,685 L1030,680 L1040,700 L1050,760 L1060,850 L1070,920 L1082,1020 L1095,1080 L1110,1120 L1125,1160 L1135,1185 L1148,1198 L1162,1207 L1172,1225 L1182,1240 L1192,1210 L1202,1060 L1212,900 L1222,780 L1235,680 L1248,635 L1256,625 L1265,640 L1278,690 L1290,760 L1300,800 L1310,813 L1325,816 L1340,818 L1355,822 L1370,840 L1385,865 L1400,885 L1410,893 L1425,892 L1440,890 L1455,887 L1470,893 L1480,900 L1495,930 L1510,970 L1525,1030 L1540,1100 L1549,1165 L1549,1462 L22,1462Z"/>
<path fill="none" stroke="#a8d66a" stroke-width="2.8" vector-effect="non-scaling-stroke" d="M22,1198 L35,1202 L48,1215 L58,1235 L70,1265 L80,1290 L88,1312 L95,1298 L105,1150 L115,1000 L125,880 L135,800 L143,790 L150,792 L160,800 L170,840 L180,900 L190,960 L200,1010 L210,1050 L222,1085 L232,1125 L245,1140 L255,1150 L265,1170 L278,1230 L290,1275 L305,1310 L315,1280 L322,1150 L332,950 L345,860 L358,850 L370,870 L380,920 L390,980 L398,1030 L410,1060 L420,1090 L430,1150 L440,1220 L450,1270 L460,1320 L475,1360 L490,1400 L500,1420 L512,1440 L525,1450 L533,1420 L545,1240 L555,1050 L565,950 L575,900 L585,875 L595,885 L605,920 L615,970 L625,1020 L640,1070 L655,1110 L670,1150 L685,1185 L700,1215 L715,1230 L730,1250 L745,1258 L752,1210 L762,1020 L772,880 L785,760 L795,720 L805,690 L815,710 L825,770 L835,850 L845,920 L855,1000 L865,1080 L875,1120 L890,1128 L898,1120 L908,1100 L918,1093 L928,1100 L938,1110 L948,1105 L962,1095 L972,1060 L982,960 L995,800 L1010,710 L1020,685 L1030,680 L1040,700 L1050,760 L1060,850 L1070,920 L1082,1020 L1095,1080 L1110,1120 L1125,1160 L1135,1185 L1148,1198 L1162,1207 L1172,1225 L1182,1240 L1192,1210 L1202,1060 L1212,900 L1222,780 L1235,680 L1248,635 L1256,625 L1265,640 L1278,690 L1290,760 L1300,800 L1310,813 L1325,816 L1340,818 L1355,822 L1370,840 L1385,865 L1400,885 L1410,893 L1425,892 L1440,890 L1455,887 L1470,893 L1480,900 L1495,930 L1510,970 L1525,1030 L1540,1100 L1549,1165"/>
<path fill="none" stroke="#3f74cc" stroke-width="2.8" vector-effect="non-scaling-stroke" d="M22,1160 L35,1180 L50,1200 L65,1212 L75,1245 L85,1265 L95,1215 L105,1000 L115,800 L125,550 L133,440 L140,380 L150,380 L160,470 L170,580 L180,700 L190,820 L200,900 L210,980 L220,1030 L232,1065 L242,1090 L255,1110 L270,1135 L285,1160 L295,1195 L305,1235 L315,1190 L325,980 L335,650 L350,450 L360,420 L370,450 L380,600 L390,750 L400,900 L410,1030 L420,1090 L430,1140 L440,1150 L452,1155 L462,1180 L472,1215 L485,1245 L500,1243 L510,1245 L518,1265 L525,1290 L533,1250 L542,1100 L552,850 L562,650 L572,480 L580,440 L590,460 L600,620 L612,800 L625,950 L638,1030 L652,1090 L665,1105 L680,1115 L695,1125 L710,1140 L725,1155 L735,1185 L745,1215 L755,1170 L765,900 L775,640 L785,450 L795,360 L800,305 L808,318 L815,420 L825,580 L835,750 L845,900 L855,950 L865,990 L875,1020 L888,1040 L900,1050 L910,1055 L920,1050 L930,1030 L945,1000 L958,993 L965,990 L972,940 L982,800 L992,560 L1002,400 L1012,300 L1018,290 L1027,305 L1035,420 L1045,600 L1058,780 L1068,910 L1082,925 L1095,975 L1110,1020 L1125,1040 L1140,1050 L1152,1065 L1165,1080 L1175,1105 L1182,1125 L1190,1080 L1200,850 L1212,620 L1222,480 L1232,390 L1240,360 L1248,358 L1257,390 L1265,460 L1277,560 L1287,620 L1297,680 L1305,700 L1315,695 L1328,685 L1340,670 L1352,665 L1365,675 L1378,695 L1390,710 L1400,722 L1412,722 L1425,680 L1440,640 L1455,610 L1465,605 L1475,625 L1490,680 L1505,760 L1520,850 L1535,940 L1549,1040"/>
<path fill="none" stroke="#f07a72" stroke-width="3.4" vector-effect="non-scaling-stroke" d="M22,1023 L35,1027 L45,1045 L55,1065 L68,1085 L78,1110 L88,1135 L95,1115 L105,995 L115,840 L125,700 L135,590 L143,530 L150,490 L158,488 L165,515 L175,570 L185,650 L195,740 L205,820 L215,880 L225,925 L232,950 L240,965 L250,980 L260,1000 L270,1035 L280,1070 L290,1100 L300,1125 L305,1140 L315,1115 L323,1000 L332,860 L342,740 L352,650 L362,612 L370,605 L378,650 L388,730 L398,800 L410,860 L422,910 L435,980 L450,1060 L465,1120 L480,1165 L490,1185 L500,1200 L510,1210 L520,1225 L525,1230 L533,1200 L543,1100 L555,900 L563,820 L570,750 L580,680 L588,650 L598,665 L610,730 L625,820 L640,900 L650,935 L665,960 L680,985 L695,1010 L710,1030 L725,1045 L740,1065 L745,1070 L752,1045 L760,920 L770,790 L780,680 L790,600 L800,550 L808,540 L815,560 L825,620 L835,720 L845,810 L855,880 L865,920 L880,940 L892,945 L900,935 L912,925 L922,922 L935,927 L945,930 L955,928 L965,920 L975,880 L985,780 L995,680 L1005,590 L1015,520 L1025,500 L1035,520 L1045,570 L1055,640 L1065,720 L1080,800 L1095,870 L1110,930 L1125,970 L1135,990 L1148,1005 L1160,1010 L1170,1025 L1182,1040 L1190,1010 L1200,880 L1210,700 L1220,570 L1230,490 L1240,440 L1248,420 L1255,425 L1265,460 L1278,520 L1290,580 L1300,620 L1310,640 L1325,655 L1340,665 L1355,675 L1370,685 L1385,695 L1400,702 L1415,705 L1430,703 L1445,702 L1455,702 L1470,710 L1485,725 L1500,750 L1515,790 L1530,850 L1549,940"/>
</g>
<use href="#vl" transform="translate(0,1231) scale(1,290)"/>
<g font-size="7.5" fill="#c97fcb" text-anchor="middle"><text x="131" y="1231">12月06日</text><text x="351" y="1231">12月07日</text><text x="570" y="1231">12月08日</text><text x="790" y="1231">12月09日</text><text x="1009" y="1231">12月10日</text><text x="1228" y="1231">12月11日</text><text x="1448" y="1231">12月12日</text></g>
<g font-size="5" fill="#f4a8a0" text-anchor="middle"><text x="155" y="1292">2.5℃</text><text x="370" y="1321">0.0℃</text><text x="590" y="1332">-1.0℃</text><text x="808" y="1305">1.4℃</text><text x="1026" y="1296">2.3℃</text><text x="1252" y="1277">4.0℃</text></g>
<g font-size="5" fill="#b8c8e0" text-anchor="middle"><text x="86" y="1456">-11.5℃</text><text x="305" y="1457">-11.6℃</text><text x="524" y="1481">-13.6℃</text><text x="744" y="1441">-9.9℃</text><text x="898" y="1409">-7.4℃</text><text x="1182" y="1435">-10.0℃</text><text x="1547" y="1409">-7.6℃</text></g>
<rect x="22" y="1217" width="1527" height="329" fill="none" stroke="#222" stroke-width="0.7"/>
<g font-size="4.5" fill="#333" text-anchor="end"><text x="19" y="1268.5">5</text><text x="19" y="1324.5">0</text><text x="19" y="1381">-5</text><text x="19" y="1437">-10</text><text x="19" y="1493">-15</text></g>
<g><rect x="24" y="1220" width="41" height="29" fill="#fff" stroke="#ddd" stroke-width="0.5"/><path d="M27,1225h8" stroke="#f07a72" stroke-width="1"/><path d="M27,1233h8" stroke="#a8d66a" stroke-width="0.8"/><path d="M27,1241h8" stroke="#3f74cc" stroke-width="0.8"/><g font-size="5" fill="#222"><text x="40" y="1227">气温</text><text x="40" y="1235">体感温度</text><text x="40" y="1243">地表温度</text></g></g>
<use href="#xt" transform="translate(0,1553)"/>

<script>
(function(){
var NS='http://www.w3.org/2000/svg';
function el(t,a,p){var e=document.createElementNS(NS,t);for(var k in a)e.setAttribute(k,a[k]);p.appendChild(e);return e;}
var bars=document.getElementById('bars');
for(var h=141;h<=158;h++){var x=22+9.143*h;el('rect',{x:(x-3.3).toFixed(2),y:46,width:6.6,height:314,fill:'#1f77b4'},bars);}
var C={O:'#fdb462',R:'#fb8072',L:'#ccebc5',P:'#bc80bd',G:'#b3de69',T:'#8dd3c7',Y:'#ffffb3',B:'#80b1d3',Y2:'#ffed6f',Gy:'#d9d9d9',Pk:'#fccde5',Lv:'#bebada'};
var petals=[
[90,[['O',56],['R',131],['L',154],['P',164]]],
[67.5,[['O',30],['R',80],['L',152]]],
[45,[['O',20],['R',28],['L',38],['P',52]]],
[22.5,[['O',12],['R',35],['L',42],['P',50],['G',58]]],
[0,[['L',22],['P',35],['G',40]]],
[337.5,[['O',5],['P',14],['G',18]]],
[315,[['O',5],['Y',18]]],
[292.5,[['O',5],['G',14]]],
[270,[['O',6],['R',10]]],
[247.5,[['O',8],['R',15],['L',22],['P',30],['G',38],['T',48],['B',53],['Pk',57],['Lv',62]]],
[225,[['O',8],['R',15],['L',22],['P',30],['G',36],['T',42],['B',47],['Gy',52],['Pk',58]]],
[202.5,[['O',6],['R',12],['P',18]]],
[180,[['O',8],['R',25],['L',32]]],
[157.5,[['O',8],['R',18]]],
[135,[['O',10],['R',20]]],
[112.5,[['O',30]]]
];
var cx=1383,cy=590,rose=document.getElementById('rose');
function P(r,a){var t=a*Math.PI/180;return (cx+r*Math.sin(t)).toFixed(2)+','+(cy-r*Math.cos(t)).toFixed(2);}
petals.forEach(function(p){var d=p[0],r0=0;p[1].forEach(function(s){var r1=s[1],a0=d-9,a1=d+9;
var path='M'+P(r1,a0)+' A'+r1+','+r1+' 0 0 1 '+P(r1,a1)+' L'+P(r0,a1)+(r0>0?' A'+r0+','+r0+' 0 0 0 '+P(r0,a0):'')+' Z';
el('path',{d:path,fill:C[s[0]],stroke:'#fff','stroke-width':0.6},rose);r0=r1;});});
var pie=document.getElementById('pie'),px=1383,py=986,pr=133;
var sl=[[-71,-6.6,'#ccebc5'],[-6.6,-0.1,'#fdb462'],[-0.1,8.5,'#ffed6f'],[8.5,23.6,'#fb8072'],[23.6,55.6,'#b3de69'],[55.6,289,'#fccde5']];
function Q(a){var t=a*Math.PI/180;return (px+pr*Math.cos(t)).toFixed(2)+','+(py-pr*Math.sin(t)).toFixed(2);}
sl.forEach(function(s){var large=(s[1]-s[0])>180?1:0;el('path',{d:'M'+px+','+py+' L'+Q(s[0])+' A'+pr+','+pr+' 0 '+large+' 0 '+Q(s[1])+' Z',fill:s[2]},pie);});
})();
</script>
</svg>
</body></html>
